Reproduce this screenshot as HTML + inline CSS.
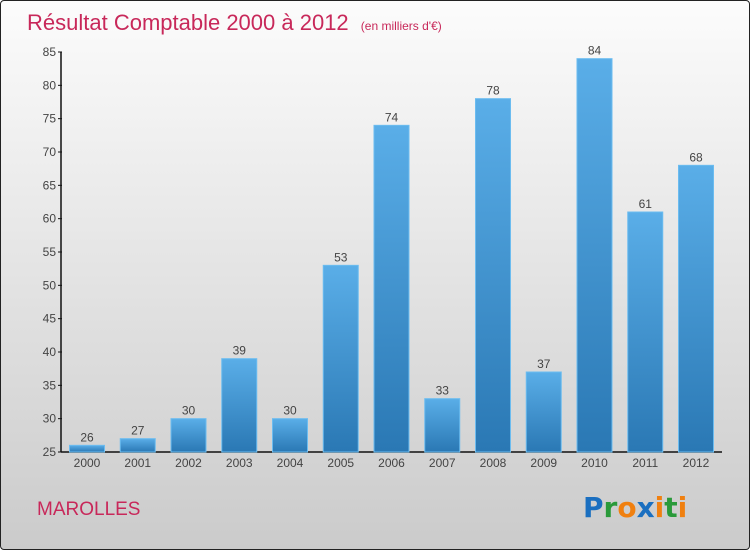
<!DOCTYPE html>
<html><head><meta charset="utf-8"><style>
body{margin:0;width:750px;height:550px;overflow:hidden;font-family:"Liberation Sans",sans-serif}
#frame{position:absolute;left:0;top:0;width:748px;height:548px;border:1px solid #222;border-radius:4px;background:linear-gradient(#fcfcfc,#cbcbcb)}
</style></head><body>
<div id="frame">
<svg width="750" height="550">
<defs><linearGradient id="bg" x1="0" y1="0" x2="0" y2="1"><stop offset="0" stop-color="#5aaee8"/><stop offset="1" stop-color="#2a78b4"/></linearGradient></defs>
<text x="26" y="29" font-size="22" fill="#c8285a">Résultat Comptable 2000 à 2012 <tspan font-size="12" dx="6">(en milliers d'€)</tspan></text>
<g id="yax"></g>
<g id="bars"></g>
<text x="36" y="514" font-size="19" fill="#c8285a">MAROLLES</text>
<text x="582" y="516" font-size="28" font-weight="bold" font-family="'DejaVu Sans',sans-serif"><tspan fill="#1a6fc0">P</tspan><tspan fill="#2a9a3a">r</tspan><tspan fill="#f08010">o</tspan><tspan fill="#1a6fc0">x</tspan><tspan fill="#f08010">i</tspan><tspan fill="#2a9a3a">t</tspan><tspan fill="#f08010">i</tspan></text>
</svg></div>
<script>
const years=["2000","2001","2002","2003","2004","2005","2006","2007","2008","2009","2010","2011","2012"];
const values=[26,27,30,39,30,53,74,33,78,37,84,61,68];
const yTicks=[25,30,35,40,45,50,55,60,65,70,75,80,85];
const NS="http://www.w3.org/2000/svg";
const y0=451,y1=51,vmin=25,vmax=85,x0=86,step=50.75,bw=35;
const ys=v=>y0-(v-vmin)/(vmax-vmin)*(y0-y1);
const xs=i=>x0+i*step;
function mk(t,a,p){const e=document.createElementNS(NS,t);for(const k in a)e.setAttribute(k,a[k]);p.appendChild(e);return e;}
const ya=document.getElementById('yax'),bg=document.getElementById('bars');
const al=mk('line',{x1:60,y1:y1,x2:60,y2:y0,stroke:'#111','stroke-width':1.5},ya);


const xl=mk('line',{x1:60,y1:y0,x2:721,y2:y0,stroke:'#111','stroke-width':1.5},ya);


yTicks.forEach(v=>{
 const y=ys(v);
 const tk=mk('line',{x1:57,y1:y,x2:61,y2:y,stroke:'#111'},ya);
 
 
 const t=mk('text',{x:55,y:y+4,'text-anchor':'end','font-size':12,fill:'#444'},ya);
 t.textContent=v;
 
 
});
values.forEach((v,i)=>{
 const cx=xs(i),top=ys(v);
 const r=mk('rect',{x:cx-bw/2,y:top,width:bw,height:y0-top,fill:'url(#bg)',stroke:'#6bbcf0','stroke-width':1},bg);
 
 
 const lb=mk('text',{x:cx,y:top-4,'text-anchor':'middle','font-size':12,fill:'#444'},bg);
 lb.textContent=v;
 
 
 const xt=mk('text',{x:cx,y:466,'text-anchor':'middle','font-size':12,fill:'#444'},bg);
 xt.textContent=years[i];
 
 
});
</script>
</body></html>
